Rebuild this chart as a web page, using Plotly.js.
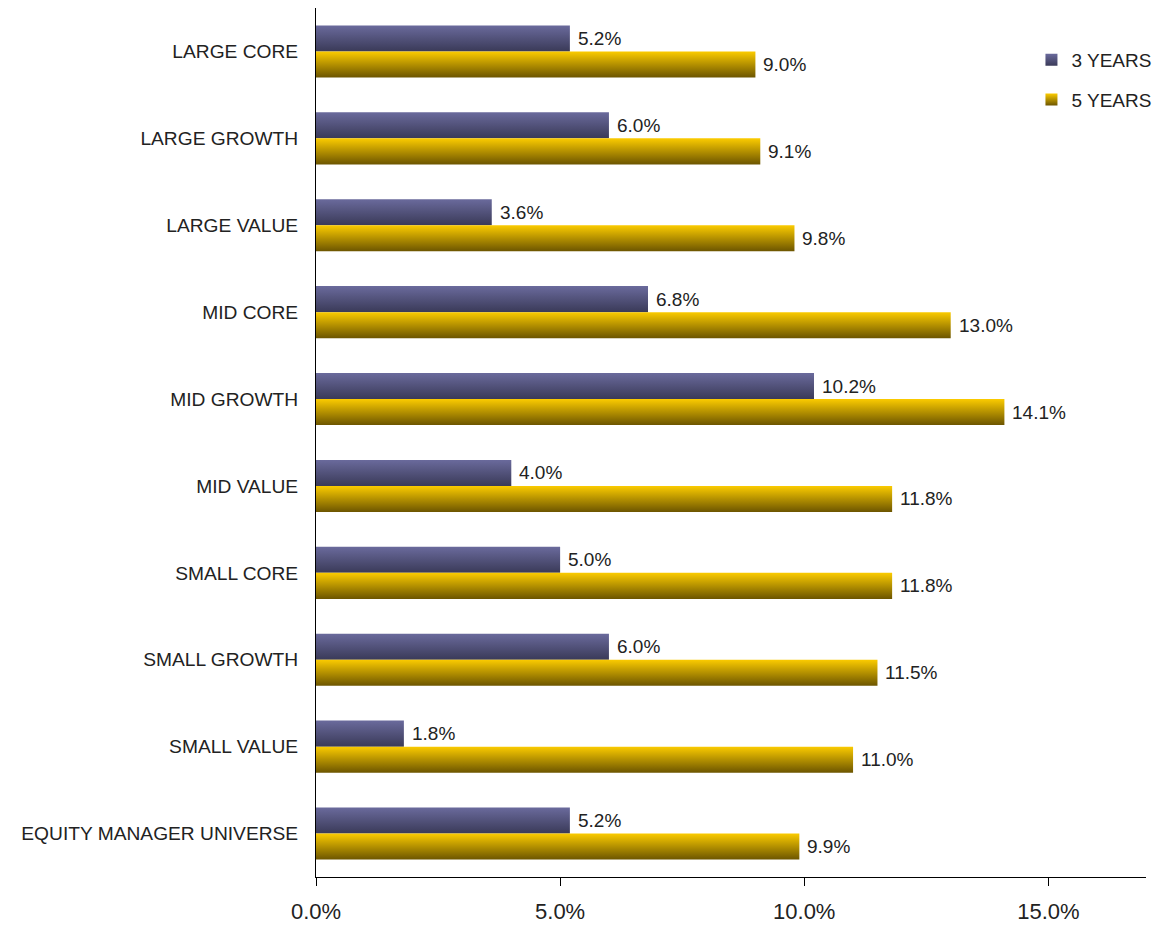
<!DOCTYPE html>
<html>
<head>
<meta charset="utf-8">
<script src="https://cdn.plot.ly/plotly-3.0.1.min.js"></script>
<style>html,body{margin:0;padding:0;background:#fff;}#chart{width:1154px;height:925px;}</style>
</head>
<body>
<div id="chart"></div>
<script>
const categories = ["LARGE CORE","LARGE GROWTH","LARGE VALUE","MID CORE","MID GROWTH","MID VALUE","SMALL CORE","SMALL GROWTH","SMALL VALUE","EQUITY MANAGER UNIVERSE"];
const years3 = [5.2, 6.0, 3.6, 6.8, 10.2, 4.0, 5.0, 6.0, 1.8, 5.2];
const years5 = [9.0, 9.1, 9.8, 13.0, 14.1, 11.8, 11.8, 11.5, 11.0, 9.9];
const seriesNames = ["3 YEARS", "5 YEARS"];
const xTickVals = [0, 5, 10, 15];
const xTickText = ["0.0%", "5.0%", "10.0%", "15.0%"];

const FONT = "Liberation Sans, Arial, sans-serif";
const labelFont = {family: FONT, size: 19, color: "#222"};

function barTrace(name, vals, color, grp) {
  return {
    type: "bar", orientation: "h", name: name,
    y: categories, x: vals,
    marker: {color: color, line: {width: 0}},
    legendgroup: grp, hoverinfo: "x+y"
  };
}

const data = [
  barTrace(seriesNames[0], years3, "#52527a", "g1"),
  barTrace(seriesNames[1], years5, "#c09c00", "g2")
];

function labels(vals, yshift) {
  return vals.map((v, i) => ({
    x: v, y: categories[i], xref: "x", yref: "y",
    text: v.toFixed(1) + "%", showarrow: false,
    xanchor: "left", yanchor: "middle", xshift: 6, yshift: yshift,
    font: labelFont
  }));
}

const layout = {
  width: 1154, height: 925,
  margin: {l: 316, r: 8, t: 8, b: 48, autoexpand: false},
  paper_bgcolor: "#fff", plot_bgcolor: "#fff",
  font: {family: FONT, color: "#222"},
  barmode: "group", bargap: 0.4, bargroupgap: 0,
  showlegend: true,
  legend: {x: 0.862, y: 0.962, xanchor: "left", yanchor: "top",
           font: {family: FONT, size: 19, color: "#222"},
           traceorder: "grouped", tracegroupgap: 12, bgcolor: "rgba(0,0,0,0)"},
  annotations: labels(years3, 13).concat(labels(years5, -13)),
  xaxis: {range: [0, 17], tickvals: xTickVals, ticktext: xTickText,
          showgrid: false, zeroline: false, showline: true, linecolor: "#000", linewidth: 1,
          ticks: "outside", ticklen: 8, tickcolor: "#000", ticklabelstandoff: 7,
          tickfont: {family: FONT, size: 22, color: "#222"}, fixedrange: true},
  yaxis: {type: "category", autorange: "reversed", showgrid: false, zeroline: false,
          showline: true, linecolor: "#000", linewidth: 1, ticks: "",
          ticklabelstandoff: 13,
          tickfont: {family: FONT, size: 19.2, color: "#222"}, fixedrange: true}
};

Plotly.newPlot("chart", data, layout, {displayModeBar: false, staticPlot: true}).then(gd => {
  const svgNS = "http://www.w3.org/2000/svg";
  const defs = gd.querySelector("svg.main-svg defs");
  const grads = [
    {id: "gradPurple", stops: [["0%", "#6a6a9c"], ["100%", "#3a3a58"]]},
    {id: "gradGold", stops: [["0%", "#fbcb00"], ["100%", "#6c5500"]]}
  ];
  grads.forEach(g => {
    const lg = document.createElementNS(svgNS, "linearGradient");
    lg.setAttribute("id", g.id);
    lg.setAttribute("x1", "0"); lg.setAttribute("y1", "0");
    lg.setAttribute("x2", "0"); lg.setAttribute("y2", "1");
    g.stops.forEach(s => {
      const st = document.createElementNS(svgNS, "stop");
      st.setAttribute("offset", s[0]);
      st.setAttribute("stop-color", s[1]);
      lg.appendChild(st);
    });
    defs.appendChild(lg);
  });
  const traces = gd.querySelectorAll(".barlayer .trace");
  traces.forEach((t, i) => {
    t.querySelectorAll(".point path").forEach(p => { p.style.fill = "url(#" + grads[i].id + ")"; });
  });
  const legTraces = gd.querySelectorAll(".legend .traces");
  legTraces.forEach((t, i) => {
    t.querySelectorAll(".legendpoints path").forEach(p => { p.style.fill = "url(#" + grads[i].id + ")"; });
  });
});
</script>
</body>
</html>
